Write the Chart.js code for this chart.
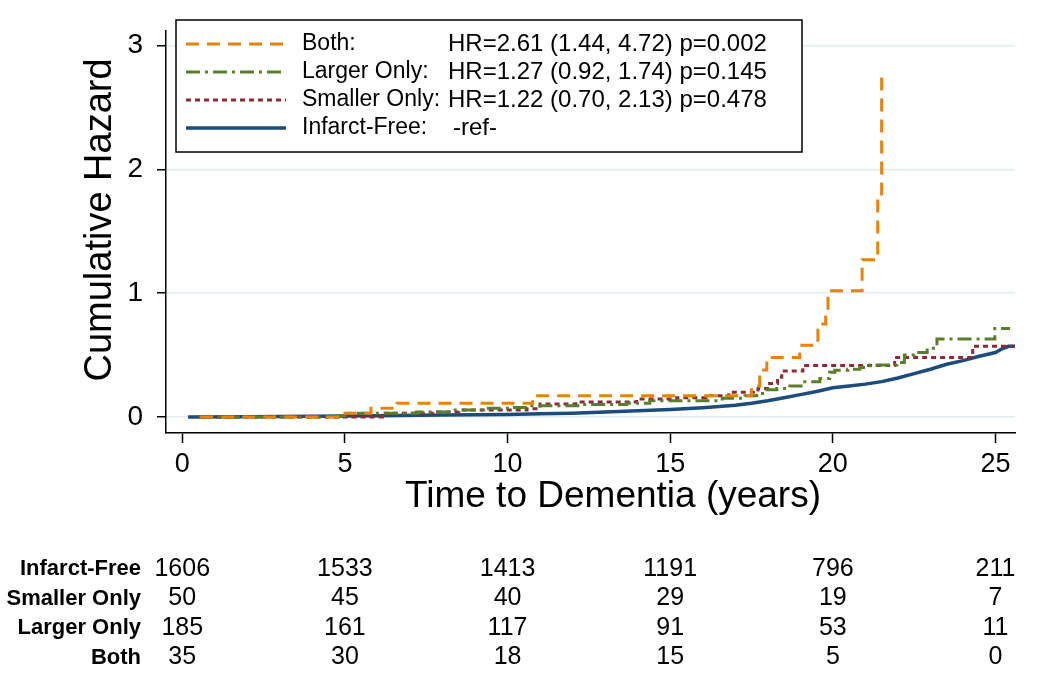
<!DOCTYPE html>
<html lang="en">
<head>
<meta charset="UTF-8">
<title>Cumulative Hazard</title>
<script src="https://cdn.jsdelivr.net/npm/chart.js"></script>
<style>
  body { margin: 0; background: #fff; }
  #wrap { width: 1050px; height: 679px; }
</style>
</head>
<body>
<div id="wrap"><canvas id="grafico"></canvas></div>
<script>
// cumulative hazard steps (time in years, hazard)
const tBoth = [0.55, 4.9, 5.8, 6.6, 10.77, 17.5, 17.75, 17.97, 18.98, 19.54, 19.78, 19.85, 20.9, 21.38, 21.5];
const hBoth = [0, 0.03, 0.07, 0.11, 0.17, 0.25, 0.38, 0.48, 0.58, 0.75, 0.85, 1.02, 1.27, 1.77, 2.76];

const tLarger = [0.5, 4.8, 5.05, 7.2, 8.2, 9.35, 10.15, 10.6, 12.3, 13.66, 14.37, 16.6, 17.3, 17.66, 17.97, 18.28, 18.68, 19.08, 19.6, 19.9, 20.06, 20.46, 20.83, 21.14, 21.97, 22.2, 22.5, 22.9, 23.2, 24.98, 25.45];
const hLarger = [0, 0.01, 0.03, 0.04, 0.055, 0.07, 0.077, 0.09, 0.1, 0.11, 0.13, 0.15, 0.17, 0.19, 0.22, 0.23, 0.25, 0.285, 0.31, 0.36, 0.378, 0.385, 0.4, 0.42, 0.44, 0.5, 0.52, 0.555, 0.63, 0.715, 0.715];

const tSmaller = [0.5, 6.15, 7.85, 8.5, 10.6, 11.0, 12.1, 13.97, 15.2, 16.1, 16.8, 17.7, 18.0, 18.3, 18.43, 19.08, 21.9, 24.3, 25.55];
const hSmaller = [0, 0.03, 0.04, 0.055, 0.065, 0.105, 0.12, 0.145, 0.155, 0.17, 0.2, 0.23, 0.27, 0.32, 0.37, 0.415, 0.48, 0.57, 0.57];

// infarct-free has many tiny steps, so it reads as a smooth curve
const tFree = [0.18, 2, 4, 6, 8, 10, 11, 12, 13, 14, 15, 16, 17, 17.5, 18, 18.5, 19, 19.5, 20, 20.5, 21, 21.5, 22, 22.5, 23, 23.5, 24, 24.5, 25, 25.2, 25.4, 25.6];
const hFree = [0, 0.002, 0.005, 0.01, 0.015, 0.02, 0.025, 0.03, 0.04, 0.05, 0.06, 0.075, 0.095, 0.11, 0.13, 0.155, 0.18, 0.205, 0.235, 0.25, 0.265, 0.285, 0.315, 0.35, 0.385, 0.425, 0.455, 0.49, 0.52, 0.55, 0.57, 0.57];

const xTicks = [0, 5, 10, 15, 20, 25];
const yTicks = [0, 1, 2, 3];

const groupNames = ['Both:', 'Larger Only:', 'Smaller Only:', 'Infarct-Free:'];
const groupStats = ['HR=2.61 (1.44, 4.72) p=0.002', 'HR=1.27 (0.92, 1.74) p=0.145', 'HR=1.22 (0.70, 2.13) p=0.478', '-ref-'];

// number at risk
const riskLabels = ['Infarct-Free', 'Smaller Only', 'Larger Only', 'Both'];
const riskFree = [1606, 1533, 1413, 1191, 796, 211];
const riskSmaller = [50, 45, 40, 29, 19, 7];
const riskLarger = [185, 161, 117, 91, 53, 11];
const riskBoth = [35, 30, 18, 15, 5, 0];

const fonte = "'Liberation Sans', Arial, sans-serif";

function pontos(t, h) {
  return t.map((v, i) => ({ x: v, y: h[i] }));
}

const extras = {
  id: 'extras',
  afterDraw(chart) {
    const ctx = chart.ctx;
    const x = chart.scales.x;
    const ds = chart.data.datasets;
    ctx.save();

    // legend box
    ctx.fillStyle = '#fff';
    ctx.fillRect(176, 20, 626, 132);
    ctx.strokeStyle = '#000';
    ctx.lineWidth = 1.5;
    ctx.strokeRect(176, 20, 626, 132);
    ctx.textBaseline = 'middle';
    for (let i = 0; i < groupNames.length; i++) {
      const y = 44 + i * 28;
      ctx.beginPath();
      ctx.strokeStyle = ds[i].borderColor;
      ctx.lineWidth = ds[i].borderWidth;
      ctx.setLineDash(ds[i].borderDash || []);
      ctx.moveTo(186, y);
      ctx.lineTo(286, y);
      ctx.stroke();
      ctx.setLineDash([]);
      ctx.fillStyle = '#000';
      ctx.textAlign = 'left';
      ctx.font = '23px ' + fonte;
      ctx.fillText(groupNames[i], 302, y);
      ctx.font = '24px ' + fonte;
      ctx.fillText(groupStats[i], i == 3 ? 453 : 448, y);
    }

    // axis titles
    ctx.fillStyle = '#000';
    ctx.font = '37px ' + fonte;
    ctx.textAlign = 'center';
    ctx.fillText('Time to Dementia (years)', 613, 497);
    ctx.save();
    ctx.translate(101, 220);
    ctx.rotate(-Math.PI / 2);
    ctx.font = '38px ' + fonte;
    ctx.fillText('Cumulative Hazard', 0, 0);
    ctx.restore();

    // number at risk table
    const linhas = [riskFree, riskSmaller, riskLarger, riskBoth];
    for (let r = 0; r < linhas.length; r++) {
      const y = 569 + r * 29.5;
      ctx.font = 'bold 22px ' + fonte;
      ctx.textAlign = 'right';
      ctx.fillText(riskLabels[r], 141, y);
      ctx.font = '25px ' + fonte;
      ctx.textAlign = 'center';
      for (let c = 0; c < xTicks.length; c++) {
        ctx.fillText(String(linhas[r][c]), x.getPixelForValue(xTicks[c]), y);
      }
    }
    ctx.restore();
  }
};

const ctx = document.getElementById('grafico').getContext('2d');
new Chart(ctx, {
  type: 'line',
  data: {
    datasets: [
      { label: 'Both', data: pontos(tBoth, hBoth), borderColor: '#E8820A', borderWidth: 3, borderDash: [13, 8] },
      { label: 'Larger Only', data: pontos(tLarger, hLarger), borderColor: '#5A7F2B', borderWidth: 3, borderDash: [14, 5, 3, 5] },
      { label: 'Smaller Only', data: pontos(tSmaller, hSmaller), borderColor: '#8E2A35', borderWidth: 3, borderDash: [5, 4] },
      { label: 'Infarct-Free', data: pontos(tFree, hFree), borderColor: '#1B4C7C', borderWidth: 3.5, stepped: false }
    ]
  },
  options: {
    responsive: true,
    maintainAspectRatio: false,
    animation: false,
    layout: { padding: { top: 12, right: 35, left: 0, bottom: 0 } },
    elements: {
      point: { radius: 0 },
      line: { stepped: true, tension: 0, fill: false, borderCapStyle: 'butt' }
    },
    plugins: {
      legend: { display: false },
      tooltip: { enabled: false }
    },
    scales: {
      x: {
        type: 'linear',
        min: -0.5,
        max: 25.6,
        afterBuildTicks: s => { s.ticks = xTicks.map(v => ({ value: v })); },
        afterFit: s => { s.height = 246; },
        grid: { drawOnChartArea: false, tickLength: 10, tickColor: '#000', tickWidth: 1.5 },
        border: { color: '#000', width: 1.5 },
        ticks: { color: '#000', font: { family: fonte, size: 27 }, padding: 5, maxRotation: 0 }
      },
      y: {
        type: 'linear',
        min: -0.13,
        max: 3.12,
        afterBuildTicks: s => { s.ticks = yTicks.map(v => ({ value: v })); },
        afterFit: s => { s.width = 166; },
        grid: { color: '#e2ecf0', lineWidth: 1.5, tickLength: 9, tickColor: '#000', tickWidth: 1.5 },
        border: { color: '#000', width: 1.5 },
        ticks: { color: '#000', font: { family: fonte, size: 28 }, padding: 14 }
      }
    }
  },
  plugins: [extras]
});
</script>
</body>
</html>
